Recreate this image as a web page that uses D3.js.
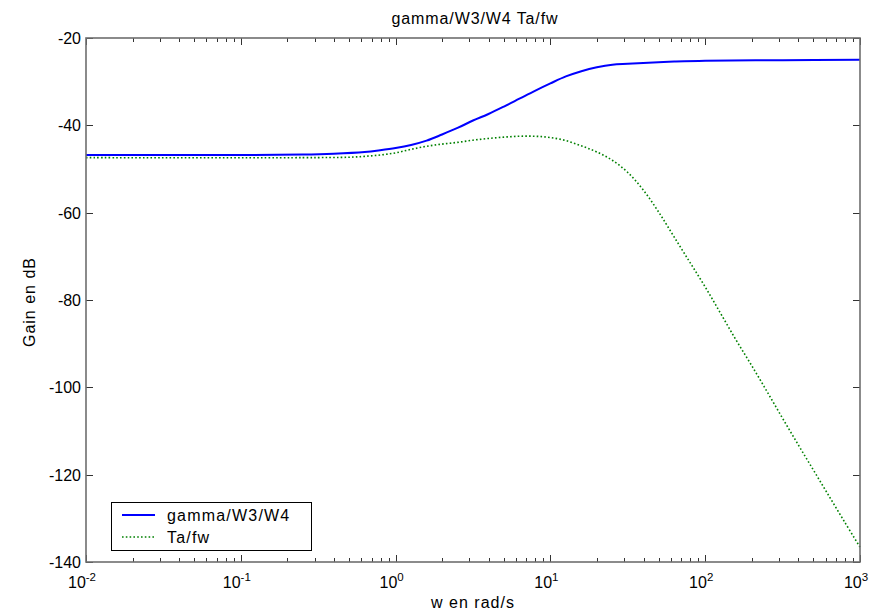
<!DOCTYPE html>
<html><head><meta charset="utf-8">
<script src="https://cdn.jsdelivr.net/npm/d3@7"></script>
<style>body{margin:0;background:#fff}svg{display:block}text{font-family:Arial,"Liberation Sans",sans-serif;fill:#000}</style>
</head><body><svg id="c" width="876" height="612"></svg>
<script>
const titleText = "gamma/W3/W4 Ta/fw";
const xLabel = "w en rad/s";
const yLabel = "Gain en dB";
const seriesNames = ["gamma/W3/W4", "Ta/fw"];
const xTickExps = [-2, -1, 0, 1, 2, 3];
const yTicks = [-140, -120, -100, -80, -60, -40, -20];

// log10(w) sample points and gains (dB)
const blueLogW = [-2.0, -1.0, -0.6, -0.4, -0.2, -0.1, 0.0, 0.1, 0.2, 0.3, 0.4, 0.5, 0.6, 0.7, 0.8, 0.9, 1.0, 1.1, 1.2, 1.3, 1.4, 1.5, 1.6, 1.8, 2.0, 2.5, 3.0];
const blueGain = [-46.8, -46.8, -46.7, -46.5, -46.1, -45.7, -45.2, -44.5, -43.5, -42.1, -40.6, -38.9, -37.4, -35.7, -33.9, -32.1, -30.4, -28.8, -27.6, -26.7, -26.1, -25.9, -25.7, -25.4, -25.2, -25.1, -25.0];
const greenLogW = [-2.0, -0.6, -0.3, -0.2, -0.1, 0.0, 0.1, 0.2, 0.3, 0.4, 0.5, 0.6, 0.7, 0.8, 0.9, 1.0, 1.1, 1.2, 1.3, 1.4, 1.5, 1.6, 1.7, 1.8, 1.9, 2.0, 2.1, 2.2, 2.3, 2.4, 2.5, 2.6, 2.7, 2.8, 2.9, 3.0];
const greenGain = [-47.4, -47.4, -47.3, -47.1, -46.8, -46.3, -45.5, -44.8, -44.3, -43.9, -43.4, -43.0, -42.7, -42.5, -42.5, -42.8, -43.5, -44.7, -46.1, -48.0, -50.8, -54.8, -59.9, -65.6, -71.3, -77.0, -83.1, -89.2, -95.0, -101.0, -107.1, -113.1, -119.0, -124.9, -130.8, -136.6];

const svg = d3.select("#c");
const L = 86, R = 860, T = 38, B = 562;
const x = d3.scaleLog().domain([1e-2, 1e3]).range([L, R]);
const y = d3.scaleLinear().domain([-140, -20]).range([B, T]);
const axisCol = "#6e6e6e";

// Ticks (inward, on all four sides)
const minors = [];
for (let e = -2; e < 3; e++) for (let m = 2; m <= 9; m++) minors.push(m * Math.pow(10, e));
const tg = svg.append("g").attr("stroke", "#333").attr("stroke-width", 1);
xTickExps.forEach(e => {
  const px = Math.round(x(Math.pow(10, e))) + 0.5;
  tg.append("line").attr("x1", px).attr("x2", px).attr("y1", B).attr("y2", B - 7);
  tg.append("line").attr("x1", px).attr("x2", px).attr("y1", T).attr("y2", T + 7);
});
minors.forEach(v => {
  const px = Math.round(x(v)) + 0.5;
  tg.append("line").attr("x1", px).attr("x2", px).attr("y1", B).attr("y2", B - 4);
  tg.append("line").attr("x1", px).attr("x2", px).attr("y1", T).attr("y2", T + 4);
});
yTicks.forEach(v => {
  const py = Math.round(y(v)) + 0.5;
  tg.append("line").attr("x1", L).attr("x2", L + 7).attr("y1", py).attr("y2", py);
  tg.append("line").attr("x1", R).attr("x2", R - 7).attr("y1", py).attr("y2", py);
});

// Curves
const line = d3.line().x(d => x(Math.pow(10, d[0]))).y(d => y(d[1])).curve(d3.curveCatmullRom.alpha(0.5));
svg.append("path").datum(blueLogW.map((v, i) => [v, blueGain[i]]))
  .attr("d", line).attr("fill", "none").attr("stroke", "#0000ff").attr("stroke-width", 2);
svg.append("path").datum(greenLogW.map((v, i) => [v, greenGain[i]]))
  .attr("d", line).attr("fill", "none").attr("stroke", "#008000").attr("stroke-width", 1.6)
  .attr("stroke-dasharray", "1.6,2.2");

// Box
svg.append("rect").attr("x", L).attr("y", T).attr("width", R - L).attr("height", B - T)
  .attr("fill", "none").attr("stroke", axisCol).attr("stroke-width", 1.6);

// Tick labels
yTicks.forEach(v => {
  svg.append("text").attr("x", L - 5).attr("y", y(v) + 6).attr("text-anchor", "end")
    .attr("font-size", 16).text(v);
});
xTickExps.forEach(e => {
  const t = svg.append("text").attr("x", x(Math.pow(10, e)) - 4).attr("y", 588)
    .attr("text-anchor", "middle").attr("font-size", 16);
  t.append("tspan").text("10");
  t.append("tspan").attr("dy", -7).attr("font-size", 11.5).text(e);
});

// Titles
svg.append("text").attr("x", 475).attr("y", 24).attr("text-anchor", "middle").attr("font-size", 16)
  .attr("letter-spacing", 0.9).text(titleText);
svg.append("text").attr("x", 473).attr("y", 608).attr("text-anchor", "middle").attr("font-size", 16)
  .attr("letter-spacing", 1).text(xLabel);
svg.append("text").attr("transform", "translate(35,302) rotate(-90)").attr("text-anchor", "middle").attr("font-size", 16)
  .attr("letter-spacing", 1).text(yLabel);

// Legend
const lg = svg.append("g");
lg.append("rect").attr("x", 111.5).attr("y", 502.5).attr("width", 200).attr("height", 48)
  .attr("fill", "#fff").attr("stroke", "#000").attr("stroke-width", 1);
const legStyles = [{c: "#0000ff", w: 2, d: null}, {c: "#008000", w: 1.6, d: "1.6,2.2"}];
seriesNames.forEach((n, i) => {
  const yy = 515 + i * 22;
  lg.append("line").attr("x1", 122).attr("x2", 155).attr("y1", yy).attr("y2", yy)
    .attr("stroke", legStyles[i].c).attr("stroke-width", legStyles[i].w).attr("stroke-dasharray", legStyles[i].d);
  lg.append("text").attr("x", 167).attr("y", yy + 6).attr("font-size", 16).attr("letter-spacing", 1.2).text(n);
});
</script></body></html>
